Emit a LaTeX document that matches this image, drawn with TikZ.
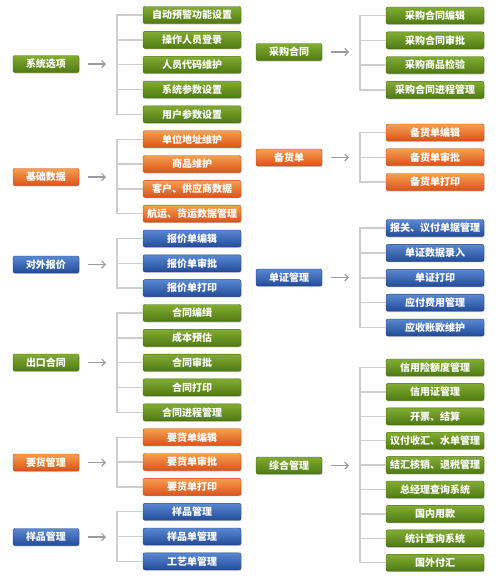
\documentclass[tikz,border=0pt]{standalone}
\usepackage{fontspec}
\newfontfamily\cjk{Noto Sans CJK SC}
\usetikzlibrary{shadows,arrows.meta}
\definecolor{gT}{HTML}{82AC32}
\definecolor{gB}{HTML}{4F7A13}
\definecolor{gD}{HTML}{44690F}
\definecolor{oT}{HTML}{F6A050}
\definecolor{oB}{HTML}{DA521A}
\definecolor{oD}{HTML}{B94415}
\definecolor{bT}{HTML}{5A88D2}
\definecolor{bB}{HTML}{234C99}
\definecolor{bD}{HTML}{1E3F7F}
\definecolor{lineC}{HTML}{CDCDCD}
\definecolor{arrC}{HTML}{9A9A9A}
\tikzset{
  box/.style={rounded corners=2pt, line width=0.4pt, inner sep=0pt,
    minimum height=17pt, text=white,
    font=\cjk\bfseries\fontsize{10}{12}\selectfont,
    drop shadow={shadow xshift=0.6pt, shadow yshift=-1pt, opacity=0.35}},
  mainw/.style={minimum width=66pt},
  subw/.style={minimum width=98pt},
  grn/.style={top color=gT, bottom color=gB, draw=gD},
  org/.style={top color=oT, bottom color=oB, draw=oD},
  blu/.style={top color=bT, bottom color=bB, draw=bD},
  conn/.style={draw=lineC, line width=1.4pt},
  arr/.style={draw=arrC, line width=1.1pt, -{Straight Barb[length=3.5pt,width=7pt]}}
}
% #1 name, #2 colour style, #3 main x, #4 main y, #5 main label, #6 sub x, #7 bar coordinate, #8 list y/label
\newcommand\mkgroup[8]{%
  \node[box,#2,mainw] (#1) at (#3,#4) {#5};
  \foreach \yy/\lab [count=\i] in {#8} {
    \node[box,#2,subw] (#1-\i) at (#6,\yy) {\lab};
    \draw[conn] (#1-\i.west) -- (#1-\i.west -| #7);
    \xdef\lastn{\i}
  }
  \draw[conn] ([yshift=0.7pt]#1-1.west -| #7) -- ([yshift=-0.7pt]#1-\lastn.west -| #7);
  \draw[arr] ([xshift=9pt]#1.east) -- ([xshift=-11pt]#1.east -| #7);
}
\begin{document}
\begin{tikzpicture}[x=1pt,y=-1pt]
\useasboundingbox (0,0) rectangle (500,584);
\fill[white] (0,0) rectangle (500,584);
\coordinate (barL) at (117,0);
\coordinate (barR) at (360,0);
% left column
\mkgroup{xt}{grn}{46}{64}{系统选项}{192}{barL}{15/自动预警功能设置,39.8/操作人员登录,64.7/人员代码维护,89.5/系统参数设置,114.3/用户参数设置}
\mkgroup{jc}{org}{46}{177}{基础数据}{192}{barL}{139.2/单位地址维护,164/商品维护,188.8/客户、供应商数据,213.6/航运、货运数据管理}
\mkgroup{bj}{blu}{46}{264.5}{对外报价}{192}{barL}{238.5/报价单编辑,263.3/报价单审批,288.1/报价单打印}
\mkgroup{ck}{grn}{46}{362.5}{出口合同}{192}{barL}{313/合同编缉,337.8/成本预估,362.6/合同审批,387.4/合同打印,412.3/合同进程管理}
\mkgroup{yh}{org}{46}{462.5}{要货管理}{192}{barL}{437.2/要货单编辑,462/要货单审批,486.8/要货单打印}
\mkgroup{yp}{blu}{46}{537}{样品管理}{192}{barL}{511.7/样品管理,536.5/样品单管理,561.3/工艺单管理}
% right column
\mkgroup{cg}{grn}{289}{52}{采购合同}{435}{barR}{15.5/采购合同编辑,40.3/采购合同审批,65/采购商品检验,89.8/采购合同进程管理}
\mkgroup{bh}{org}{289}{157.5}{备货单}{435}{barR}{132.5/备货单编辑,157.2/备货单审批,182/备货单打印}
\mkgroup{dz}{blu}{289}{277.5}{单证管理}{435}{barR}{228/报关、议付单据管理,252.9/单证数据录入,277.8/单证打印,302.6/应付费用管理,327.5/应收账款维护}
\mkgroup{zh}{grn}{289}{465.5}{综合管理}{435}{barR}{367.5/信用险额度管理,391.9/信用证管理,416.3/开票、结算,440.7/议付收汇、水单管理,465.1/结汇核销、退税管理,489.5/总经理查询系统,513.9/国内用款,538.3/统计查询系统,562.7/国外付汇}
\end{tikzpicture}
\end{document}
